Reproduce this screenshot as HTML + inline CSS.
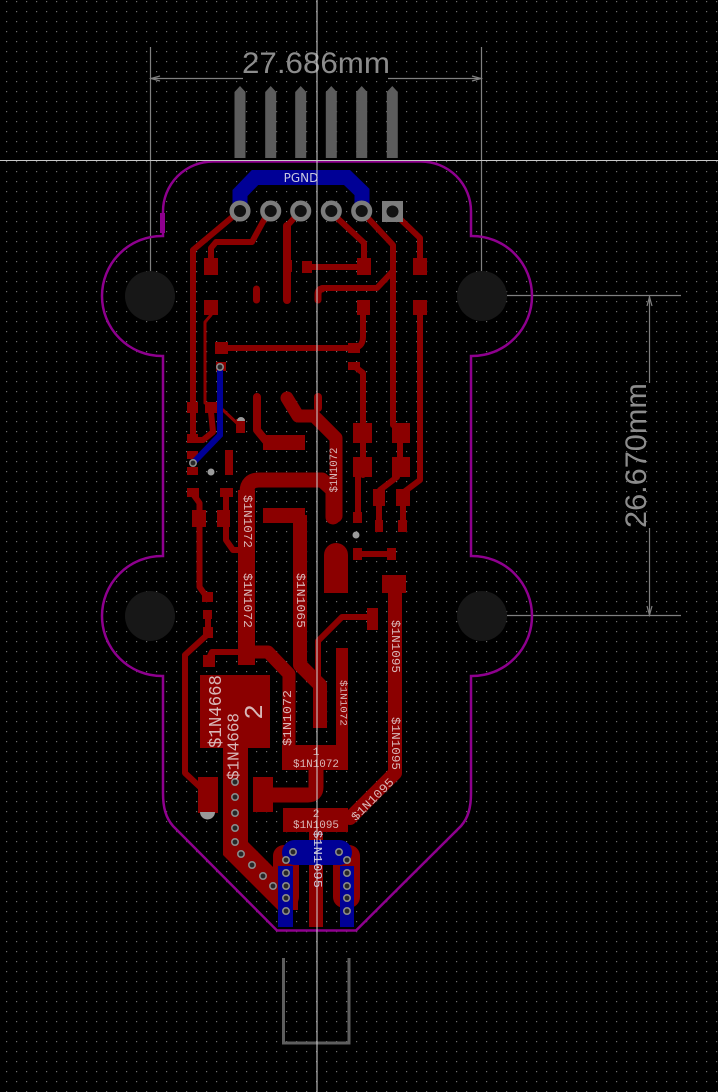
<!DOCTYPE html>
<html><head><meta charset="utf-8"><style>
html,body{margin:0;padding:0;background:#000;}
svg{display:block}
text{font-family:"Liberation Mono","DejaVu Sans Mono",monospace;}
</style></head><body>
<svg width="718" height="1092" viewBox="0 0 718 1092" xmlns="http://www.w3.org/2000/svg">
<defs>
<pattern id="g" x="6" y="1" width="10" height="10" patternUnits="userSpaceOnUse">
<rect x="0" y="0" width="1.2" height="1.2" fill="#6e6e6e"/>
</pattern>
</defs>
<rect width="718" height="1092" fill="#000"/>
<rect width="718" height="1092" fill="url(#g)"/>

<!-- dimension lines -->
<g stroke="#808080" stroke-width="1.2" fill="none">
<path d="M150.5 47 V296 M481.5 47 V296"/>
<path d="M150 78.5 H243 M388 78.5 H482"/>
<path d="M160 76 L151 78.5 L160 81 M472 76 L481 78.5 L472 81"/>
<path d="M507 295.5 H681 M507 615.5 H681"/>
<path d="M649.5 296 V383 M649.5 528 V616"/>
<path d="M647 306 L649.5 297 L652 306 M647 606 L649.5 615 L652 606"/>
</g>
<text x="316" y="73" font-size="30" text-anchor="middle" fill="#8c8c8c" style="font-family:'Liberation Sans',sans-serif" textLength="148" lengthAdjust="spacingAndGlyphs">27.686mm</text>
<text transform="translate(646,455.5) rotate(-90)" font-size="30" text-anchor="middle" fill="#8c8c8c" style="font-family:'Liberation Sans',sans-serif" textLength="145" lengthAdjust="spacingAndGlyphs">26.670mm</text>

<!-- connector pins -->
<g fill="#5c5c5c">
<polygon points="234.5,158 234.5,92 240,86 245.5,92 245.5,158"/>
<polygon points="265.2,158 265.2,92 270.7,86 276.2,92 276.2,158"/>
<polygon points="295.2,158 295.2,92 300.7,86 306.2,92 306.2,158"/>
<polygon points="325.8,158 325.8,92 331.3,86 336.8,92 336.8,158"/>
<polygon points="356.2,158 356.2,92 361.7,86 367.2,92 367.2,158"/>
<polygon points="386.8,158 386.8,92 392.3,86 397.8,92 397.8,158"/>
</g>

<!-- board outline -->
<path d="M213,161.5 H421 A50,50 0 0 1 471,211.5 V236 H472 A60,60 0 0 1 472,356 H471 V556 H472 A60,60 0 0 1 472,676 H471 V793 C471,808 468,818 461,826 L356,930.5 H277 L173,826 C166,818 163,808 163,793 V676 H162 A60,60 0 0 1 162,556 H163 V356 H162 A60,60 0 0 1 162,236 H163 V211.5 A50,50 0 0 1 213,161.5 Z" fill="none" stroke="#8e008e" stroke-width="2.5"/>
<rect x="160" y="213" width="5" height="20" fill="#8e008e"/>

<!-- mounting holes -->
<g fill="#171717">
<circle cx="150" cy="296" r="25"/><circle cx="482" cy="296" r="25"/>
<circle cx="150" cy="616" r="25"/><circle cx="482" cy="616" r="25"/>
</g>

<!-- PGND blue -->
<path d="M240,210 V193 L255,177.5 H347 L362,192 V210" fill="none" stroke="#000096" stroke-width="15" stroke-linejoin="miter"/>
<text x="301" y="182" font-size="12" text-anchor="middle" fill="#c8c8e0" style="font-family:'DejaVu Sans','Liberation Sans',sans-serif">PGND</text>

<!-- red traces -->
<g fill="none" stroke="#8b0000" stroke-linecap="round" stroke-linejoin="round">
<g stroke-width="6">
<path d="M236,214 L193,250 V438"/>
<path d="M265,218 L252,242 H216 L211,248 V262"/>
<path d="M305,267 H363"/>
<path d="M335,216 L364,243 V260"/>
<path d="M366,216 L393,245 V425"/>
<path d="M392,272 L377,288 H322"/>
<path d="M397,216 L420,238 V262"/>
<path d="M420,315 V480 L404,492"/>
<path d="M403,506 V526"/>
<path d="M363,315 V337 Q363,348 352,348 H218"/>
<path d="M354,366 L363,373 V475"/>
<path d="M358,477 V520"/>
<path d="M400,440 V462"/>
<path d="M397,477 L380,490"/>
<path d="M379,506 V526"/>
<path d="M357,554 H391"/>
<path d="M211,412 L213,432 L203,440 H192"/>
<path d="M193,494 L199.5,503 V587 L206,596"/>
<path d="M208,616 V634 L185,655 V773 L200,787"/>
<path d="M226,494 V540 L233,550 H242"/>
<path d="M241,652 H212 L208,660"/>
<path d="M370,617 H342 L318,641 V690"/>
</g>
<path d="M287,226 V300" stroke-width="8"/>
<path d="M296,216 L287,226" stroke-width="6"/>
<path d="M322,289 Q318,289 318,295 V300" stroke-width="7"/>
<path d="M211,315 L205,322 V403" stroke-width="3"/>
<path d="M223,410 L240,426" stroke-width="3"/>
<path d="M256.5,289 V300" stroke-width="7"/>
<path d="M257,397 V430 L266,441" stroke-width="8"/>
<path d="M318,397 V408" stroke-width="8"/>
<path d="M287,398 L298,416 H314 L336,438 V516" stroke-width="13"/>
<path d="M247,492 Q247,480 259,480 H322 L333,490 V517" stroke-width="15"/>
<path d="M250,652 L268,652 L289,674 V748" stroke-width="13"/>
<path d="M300,515 V665 L320,685 V728" stroke-width="14" stroke-linecap="butt"/>
<path d="M395,590 V773 L350,818" stroke-width="14"/>
<path d="M265,795 H308 Q316,795 316,787 V768" stroke-width="15"/>
</g>
<rect x="238" y="490" width="17" height="175" fill="#8b0000"/>
<path d="M223,740 H248 V842 L298,892 V910 H278 L223,855 Z" fill="#8b0000"/>

<!-- pads -->
<g fill="#8b0000">
<rect x="204" y="258" width="14" height="17"/><rect x="204" y="300" width="14" height="15"/>
<rect x="283" y="260" width="9" height="12"/><rect x="302" y="261" width="10" height="12"/>
<rect x="357" y="258" width="14" height="17"/><rect x="413" y="258" width="14" height="17"/>
<rect x="357" y="300" width="13" height="15"/><rect x="413" y="300" width="14" height="15"/>
<rect x="348" y="343" width="12" height="10"/><rect x="215" y="342" width="13" height="12"/>
<rect x="348" y="362" width="12" height="8"/><rect x="216" y="362" width="10" height="9"/>
<rect x="353" y="423" width="19" height="20"/><rect x="353" y="457" width="19" height="20"/>
<rect x="392" y="423" width="18" height="20"/><rect x="392" y="457" width="18" height="20"/>
<rect x="373" y="489" width="12" height="17"/><rect x="396" y="489" width="14" height="17"/>
<rect x="375" y="520" width="8" height="12"/><rect x="398" y="520" width="9" height="12"/>
<rect x="353" y="512" width="9" height="11"/>
<rect x="187" y="402" width="11" height="11"/><rect x="187" y="434" width="11" height="9"/>
<rect x="205" y="402" width="12" height="11"/><rect x="236" y="419" width="9" height="14"/>
<rect x="187" y="451" width="11" height="8"/><rect x="187" y="467" width="11" height="8"/>
<rect x="225" y="450" width="8" height="25"/>
<rect x="187" y="488" width="12" height="9"/><rect x="220" y="488" width="13" height="9"/>
<rect x="192" y="510" width="14" height="17"/><rect x="217" y="510" width="13" height="17"/>
<rect x="202" y="592" width="11" height="10"/><rect x="203" y="610" width="9" height="9"/>
<rect x="203" y="627" width="10" height="11"/>
<rect x="203" y="655" width="12" height="12"/>
<rect x="263" y="435" width="42" height="15"/><rect x="263" y="508" width="42" height="15"/>
<rect x="353" y="548" width="9" height="12"/><rect x="387" y="548" width="9" height="12"/>
<rect x="382" y="575" width="24" height="18"/><rect x="367" y="608" width="11" height="22"/>
<rect x="200" y="675" width="70" height="73"/>
<rect x="198" y="777" width="20" height="36"/><rect x="253" y="777" width="20" height="35"/>
<rect x="282" y="745" width="66" height="25"/><rect x="283" y="808" width="65" height="24"/>
<rect x="336" y="648" width="12" height="100"/>
<rect x="309" y="832" width="14" height="95"/>
<rect x="273" y="845" width="26" height="63" rx="11"/>
<rect x="333" y="845" width="27" height="63" rx="11"/>
<path d="M324,593 V555 A12,12 0 0 1 348,555 V593 Z"/>
</g>
<path d="M200,812 A7.5,7.5 0 0 0 215,812 Z" fill="#9a9a9a"/>
<path d="M237,421 A4,4 0 0 1 245,421 Z" fill="#9a9a9a"/>

<!-- blue bottom -->
<g fill="#000096">
<rect x="282" y="840" width="70" height="25" rx="12.5"/>
<rect x="278" y="866" width="15" height="61"/>
<rect x="340" y="866" width="14" height="61"/>
</g>
<path d="M220,367 V435 L193,463" fill="none" stroke="#000096" stroke-width="6"/>

<!-- gray holes -->
<g fill="#9a9a9a">
<circle cx="211" cy="472" r="3.5"/><circle cx="356" cy="535" r="3.5"/>
</g>

<!-- vias -->
<g fill="#262626" stroke="#8a8a8a" stroke-width="1.6">
<circle cx="220" cy="367" r="3.2"/><circle cx="193" cy="463" r="3.2"/>
<circle cx="235" cy="782" r="3.2"/><circle cx="235" cy="797" r="3.2"/><circle cx="235" cy="813" r="3.2"/>
<circle cx="235" cy="828" r="3.2"/><circle cx="235" cy="842" r="3.2"/><circle cx="241" cy="854" r="3.2"/>
<circle cx="252" cy="865" r="3.2"/><circle cx="263" cy="876" r="3.2"/><circle cx="273" cy="886" r="3.2"/>
<circle cx="293" cy="852" r="3.2"/><circle cx="339" cy="852" r="3.2"/>
<circle cx="286" cy="860" r="3.2"/><circle cx="347" cy="860" r="3.2"/>
<circle cx="286" cy="873" r="3.2"/><circle cx="286" cy="886" r="3.2"/><circle cx="286" cy="898" r="3.2"/><circle cx="286" cy="911" r="3.2"/>
<circle cx="347" cy="873" r="3.2"/><circle cx="347" cy="886" r="3.2"/><circle cx="347" cy="898" r="3.2"/><circle cx="347" cy="911" r="3.2"/>
</g>

<!-- top connector pads -->
<g fill="#111" stroke="#7c7c7c" stroke-width="4.5">
<circle cx="240" cy="211" r="8.3"/><circle cx="270.7" cy="211" r="8.3"/><circle cx="300.7" cy="211" r="8.3"/>
<circle cx="331.3" cy="211" r="8.3"/><circle cx="361.7" cy="211" r="8.3"/>
</g>
<rect x="382" y="201" width="21" height="21" fill="#7c7c7c"/>
<circle cx="392.5" cy="211.5" r="6" fill="#111"/>

<!-- USB outline -->
<path d="M283.5,958 V1043 H349 V958" fill="none" stroke="#5e5e5e" stroke-width="3"/>

<!-- labels -->
<g fill="#d8b8b8" font-size="11" text-anchor="middle" dominant-baseline="central">
<text transform="translate(247,521.5) rotate(90)" textLength="53" lengthAdjust="spacingAndGlyphs" font-size="12">$1N1072</text>
<text transform="translate(247,600.5) rotate(90)" textLength="55" lengthAdjust="spacingAndGlyphs" font-size="12">$1N1072</text>
<text transform="translate(300,600.5) rotate(90)" textLength="55" lengthAdjust="spacingAndGlyphs" font-size="12">$1N1065</text>
<text transform="translate(335,470) rotate(-90)" textLength="45" lengthAdjust="spacingAndGlyphs">$1N1072</text>
<text transform="translate(288,718) rotate(-90)" textLength="56" lengthAdjust="spacingAndGlyphs" font-size="12">$1N1072</text>
<text transform="translate(342,703) rotate(90)" textLength="46" lengthAdjust="spacingAndGlyphs" font-size="10">$1N1072</text>
<text transform="translate(395,646.5) rotate(90)" textLength="53" lengthAdjust="spacingAndGlyphs" font-size="12">$1N1095</text>
<text transform="translate(395,743.5) rotate(90)" textLength="53" lengthAdjust="spacingAndGlyphs" font-size="12">$1N1095</text>
<text transform="translate(373,800) rotate(-45)" textLength="55" lengthAdjust="spacingAndGlyphs" font-size="12">$1N1095</text>
<text transform="translate(217,711.5) rotate(-90)" textLength="73" lengthAdjust="spacingAndGlyphs" font-size="18">$1N4668</text>
<text transform="translate(235,746.5) rotate(-90)" textLength="67" lengthAdjust="spacingAndGlyphs" font-size="17">$1N4668</text>
<text transform="translate(255,712) rotate(-90)" font-size="26">2</text>
<text x="316" y="753">1</text>
<text x="316" y="765" textLength="46" lengthAdjust="spacingAndGlyphs">$1N1072</text>
<text x="316" y="815">2</text>
<text x="316" y="826" textLength="46" lengthAdjust="spacingAndGlyphs">$1N1095</text>
<text transform="translate(317,859) rotate(90)" textLength="58" lengthAdjust="spacingAndGlyphs" font-size="12" fill="#c8c8dc">$1N1095</text>
</g>

<!-- crosshair -->
<line x1="317" y1="0" x2="317" y2="1092" stroke="#d6d6d6" stroke-width="1"/>
<line x1="0" y1="160.5" x2="718" y2="160.5" stroke="#c8c8c8" stroke-width="1"/>
</svg>
</body></html>
